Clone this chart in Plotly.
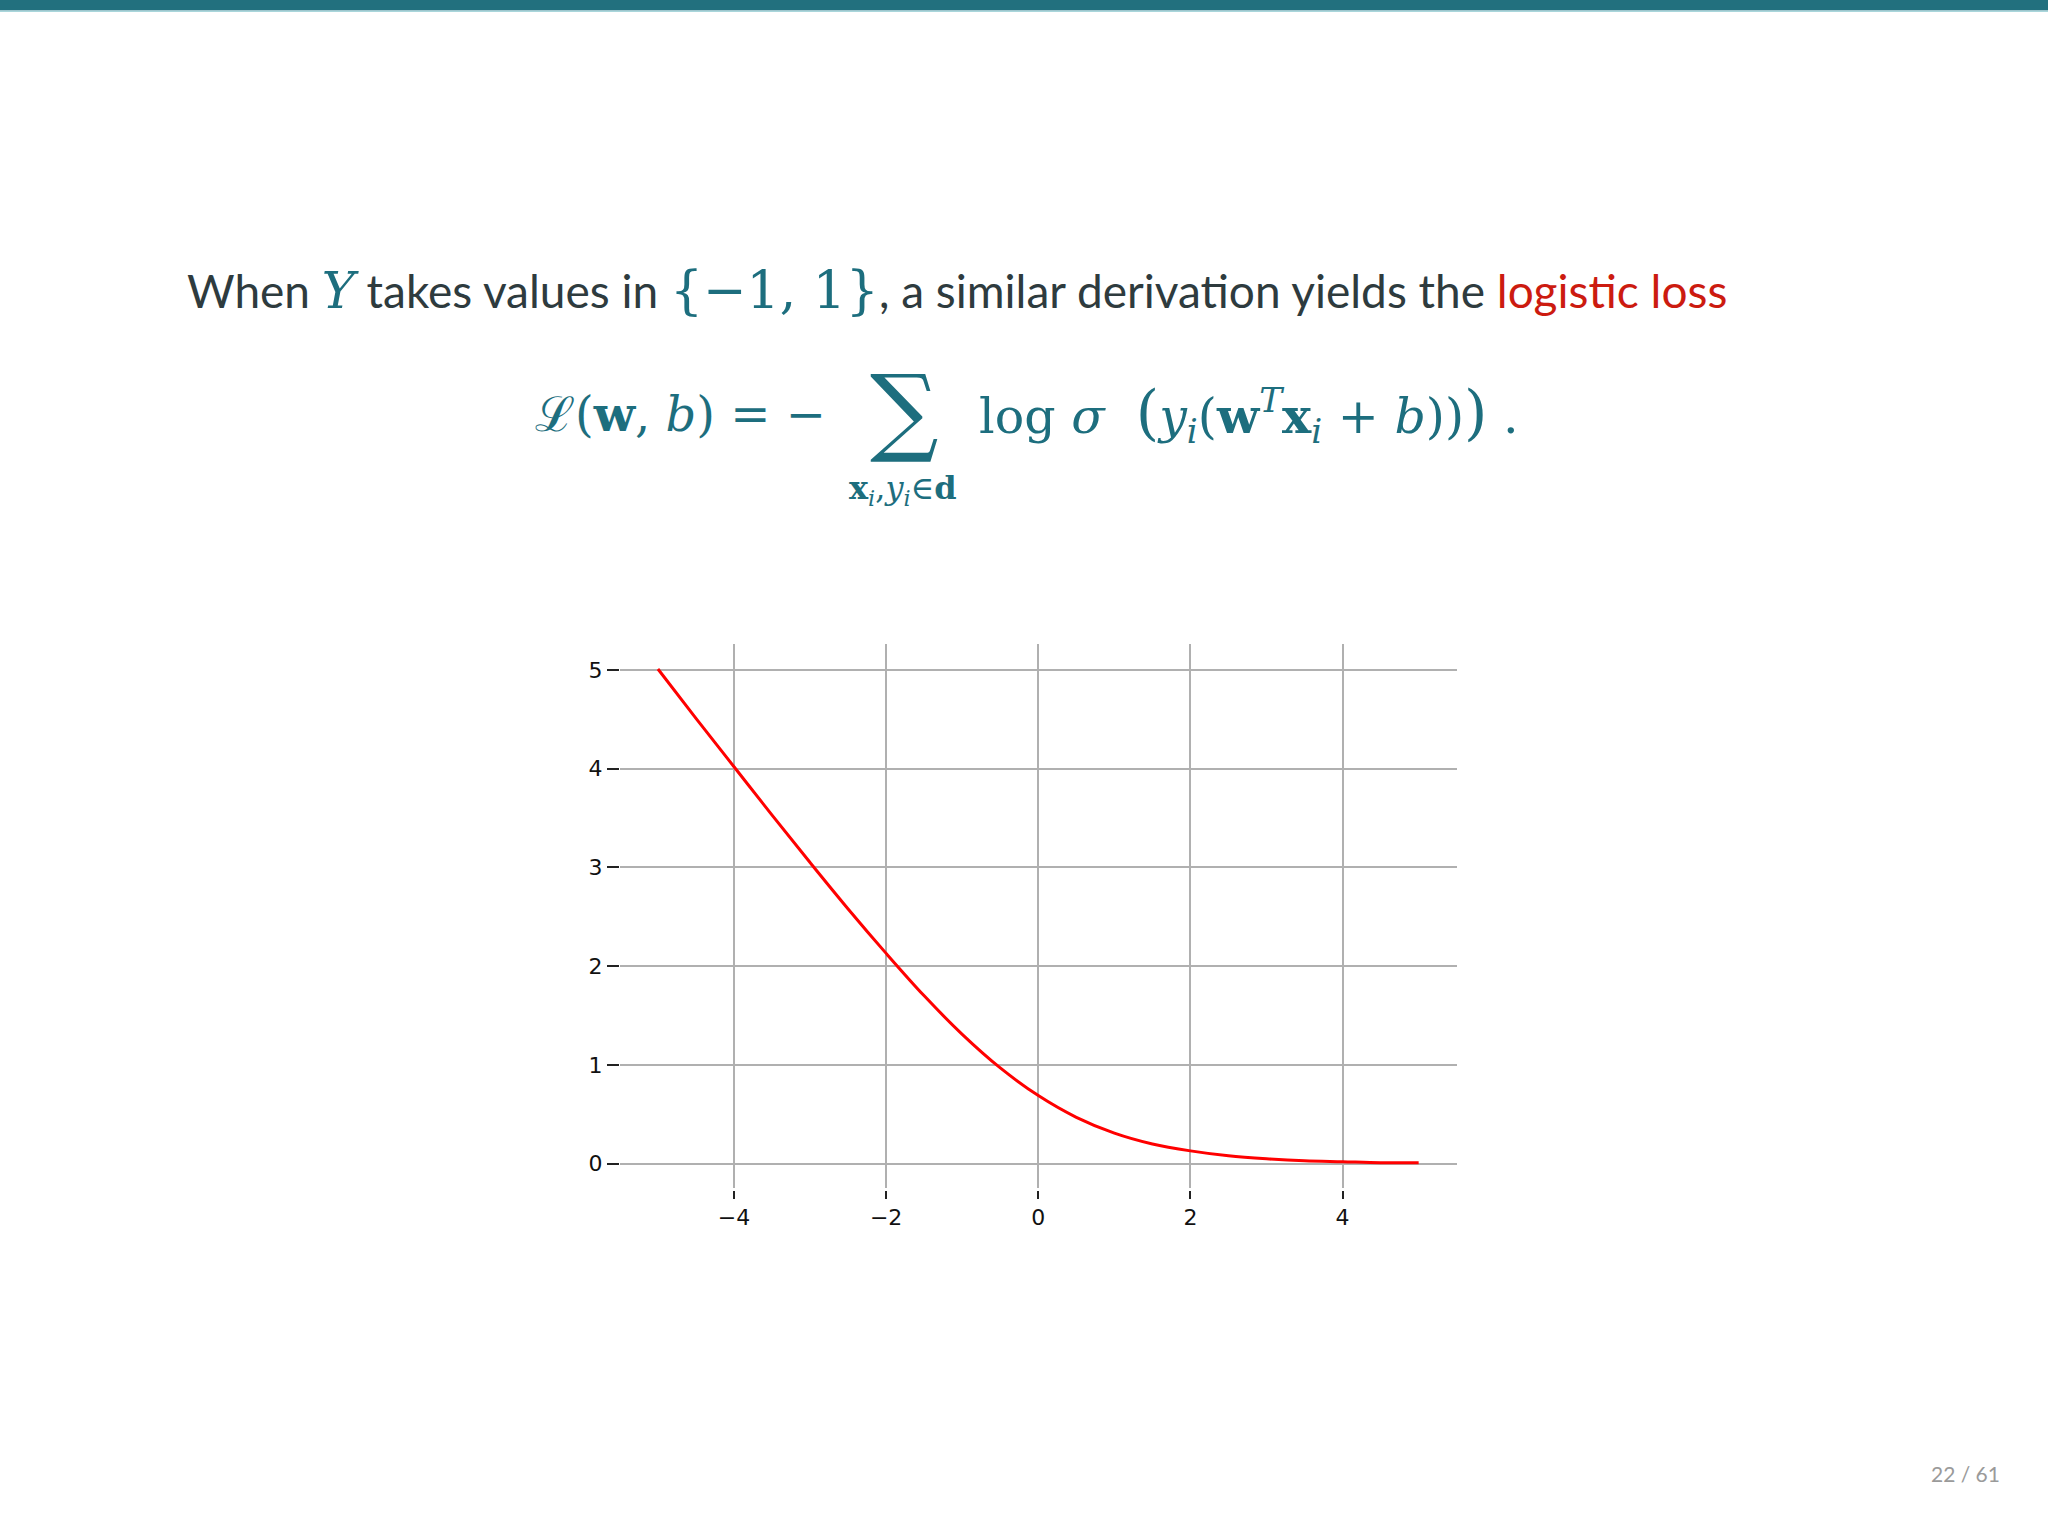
import plotly.graph_objects as go

# ---- data ----
x_vals = [-5, -4.5, -4, -3.5, -3, -2.5, -2, -1.5, -1, -0.5, 0, 0.5, 1, 1.5, 2, 2.5, 3, 3.5, 4, 4.5, 5]
loss_vals = [5.01, 4.51, 4.02, 3.53, 3.05, 2.58, 2.13, 1.70, 1.31, 0.97, 0.69, 0.47, 0.31, 0.20, 0.13, 0.08, 0.05, 0.03, 0.02, 0.01, 0.01]
x_ticks = [-4, -2, 0, 2, 4]
x_tick_labels = ["\u22124", "\u22122", "0", "2", "4"]
y_ticks = [0, 1, 2, 3, 4, 5]
y_tick_labels = ["0", "1", "2", "3", "4", "5"]

W, H = 2048, 1533
def px(x):
    return x / W
def py(y):
    return 1 - y / H

TEAL = "#1d6e7e"
DARK = "#2e3b3e"
RED = "#cc1b10"
MATH = "DejaVu Serif"

fig = go.Figure()
fig.add_trace(go.Scatter(x=x_vals, y=loss_vals, mode="lines",
                         line=dict(color="#ff0000", width=3, shape="spline"),
                         showlegend=False, hoverinfo="skip"))

fig.update_layout(
    width=W, height=H, autosize=False,
    margin=dict(l=0, r=0, t=0, b=0),
    paper_bgcolor="white", plot_bgcolor="white",
    xaxis=dict(domain=[px(619.9), px(1456.7)], range=[-5.5, 5.5],
               tickvals=x_ticks, ticktext=x_tick_labels,
               showgrid=True, gridcolor="#b0b0b0", gridwidth=1.6,
               zeroline=False, showline=False,
               ticks="outside", ticklen=8, tickwidth=1.6, tickcolor="#222",
               tickfont=dict(family="DejaVu Sans", size=22, color="#111"),
               anchor="free", position=py(1190)),
    yaxis=dict(domain=[py(1188.4), py(644.3)], range=[-0.25, 5.26],
               tickvals=y_ticks, ticktext=y_tick_labels,
               showgrid=True, gridcolor="#b0b0b0", gridwidth=1.6,
               zeroline=False, showline=False,
               ticks="outside", ticklen=12, tickwidth=1.6, tickcolor="#222",
               tickfont=dict(family="DejaVu Sans", size=22, color="#111")),
)

# top bar
fig.add_shape(type="rect", xref="paper", yref="paper",
              x0=0, x1=1, y0=py(10.5), y1=1, fillcolor="#22707e", line_width=0, layer="above")
fig.add_shape(type="rect", xref="paper", yref="paper",
              x0=0, x1=1, y0=py(12), y1=py(10.5), fillcolor="#a9d6db", line_width=0, layer="above")

def ann(x, y, text, size, color, family="Lato", xanchor="left", yanchor="middle"):
    fig.add_annotation(x=px(x), y=py(y), xref="paper", yref="paper", text=text,
                       showarrow=False, xanchor=xanchor, yanchor=yanchor,
                       font=dict(family=family, size=size, color=color))

# first line of text
line1 = ("When <span style=\"font-family:'%s';color:%s;font-size:50px\"><i>Y</i></span> takes values in "
         "<span style=\"font-family:'%s';color:%s;font-size:52px\">{\u22121, 1}</span>, a similar derivation yields the "
         "<span style=\"color:%s\">logistic loss</span>") % (MATH, TEAL, MATH, TEAL, RED)
ann(185, 290, line1, 46, DARK)

# formula
ann(533, 414, "\u2112(<b>w</b>, <i>b</i>) = \u2212", 48, TEAL, family=MATH)
ann(904, 410, "\u2211", 96, TEAL, family="DejaVu Serif", xanchor="center")
ann(903, 490, "<b>x</b><sub><i>i</i></sub>,<i>y</i><sub><i>i</i></sub>\u2208<b>d</b>", 32, TEAL, family=MATH, xanchor="center", yanchor="middle")
ann(977, 414, "log <i>\u03c3</i>  <span style=\"font-size:60px\">(</span><i>y</i><sub><i>i</i></sub>(<b>w</b><sup><i>T</i></sup><b>x</b><sub><i>i</i></sub> + <i>b</i>))<span style=\"font-size:60px\">)</span> .", 49, TEAL, family=MATH)

# page number
ann(2002, 1473, "22 / 61", 21, "#9a9a9a", xanchor="right")

fig.write_html("out.html", config={"displayModeBar": False},
               post_script="document.body.style.margin='0';document.body.style.padding='0';")
